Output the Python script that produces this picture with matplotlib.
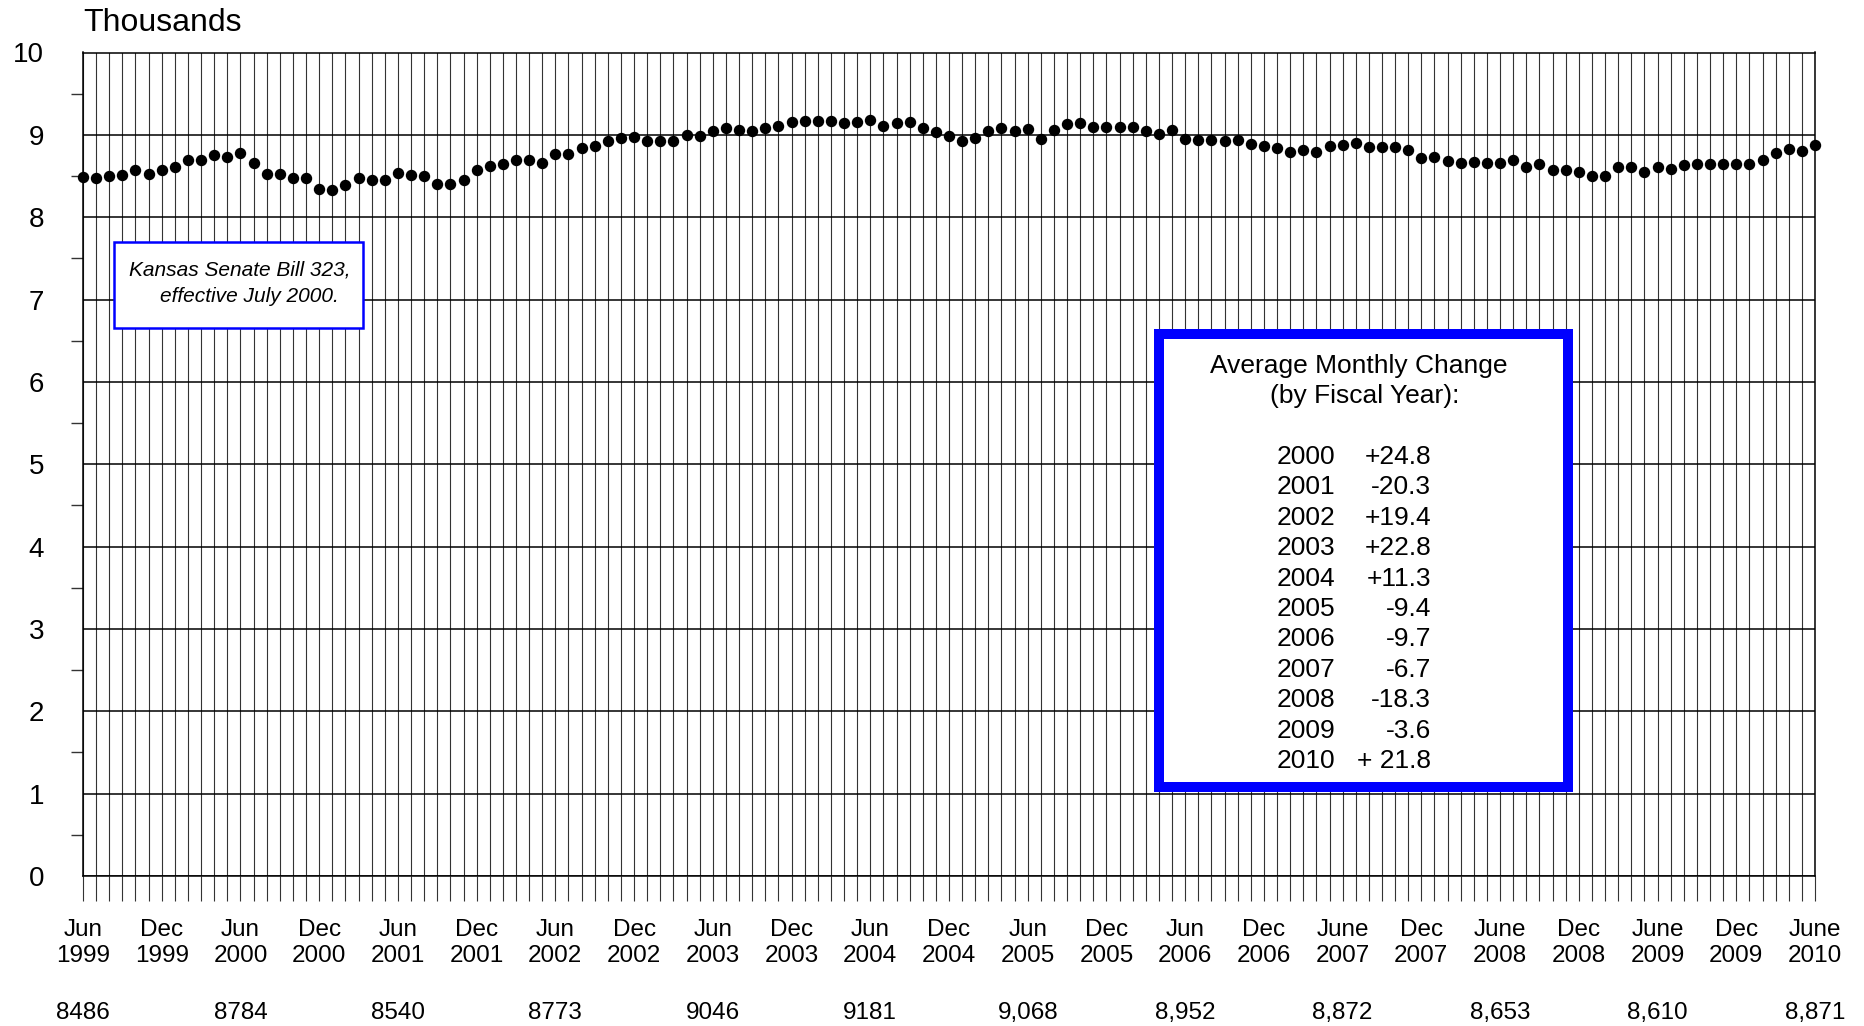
import numpy as np
import matplotlib
matplotlib.use('Agg')
import matplotlib.pyplot as plt
from matplotlib.patches import Rectangle
from matplotlib.transforms import blended_transform_factory

plt.rcParams['font.family'] = ['Liberation Sans', 'DejaVu Sans']

# monthly caseload (thousands), June 1999 .. June 2010
caseload = [8.486, 8.48, 8.50, 8.51, 8.57, 8.52, 8.57, 8.61, 8.70, 8.70, 8.75, 8.73,
            8.784, 8.66, 8.53, 8.53, 8.47, 8.47, 8.34, 8.33, 8.39, 8.48, 8.45, 8.45,
            8.540, 8.51, 8.50, 8.40, 8.40, 8.45, 8.57, 8.62, 8.64, 8.70, 8.70, 8.66,
            8.773, 8.77, 8.84, 8.87, 8.93, 8.96, 8.97, 8.93, 8.92, 8.92, 9.00, 8.99,
            9.046, 9.08, 9.06, 9.05, 9.08, 9.11, 9.16, 9.17, 9.17, 9.17, 9.14, 9.15,
            9.181, 9.11, 9.14, 9.15, 9.08, 9.04, 8.99, 8.93, 8.96, 9.05, 9.08, 9.05,
            9.068, 8.95, 9.06, 9.13, 9.14, 9.09, 9.09, 9.09, 9.09, 9.05, 9.01, 9.06,
            8.952, 8.94, 8.94, 8.92, 8.94, 8.89, 8.87, 8.84, 8.79, 8.81, 8.79, 8.87,
            8.872, 8.90, 8.85, 8.85, 8.85, 8.81, 8.72, 8.73, 8.68, 8.66, 8.67, 8.66,
            8.653, 8.69, 8.61, 8.64, 8.57, 8.57, 8.55, 8.50, 8.50, 8.61, 8.61, 8.55,
            8.610, 8.58, 8.63, 8.64, 8.64, 8.65, 8.64, 8.64, 8.69, 8.78, 8.83, 8.80,
            8.871]

tick_labels = ['Jun\n1999', 'Dec\n1999', 'Jun\n2000', 'Dec\n2000', 'Jun\n2001', 'Dec\n2001',
               'Jun\n2002', 'Dec\n2002', 'Jun\n2003', 'Dec\n2003', 'Jun\n2004', 'Dec\n2004',
               'Jun\n2005', 'Dec\n2005', 'Jun\n2006', 'Dec\n2006', 'June\n2007', 'Dec\n2007',
               'June\n2008', 'Dec\n2008', 'June\n2009', 'Dec\n2009', 'June\n2010']

june_counts = ['8486', '8784', '8540', '8773', '9046', '9181',
               '9,068', '8,952', '8,872', '8,653', '8,610', '8,871']

fiscal_years = ['2000', '2001', '2002', '2003', '2004', '2005',
                '2006', '2007', '2008', '2009', '2010']
avg_change = ['+24.8', '-20.3', '+19.4', '+22.8', '+11.3', '-9.4',
              '-9.7', '-6.7', '-18.3', '-3.6', '+ 21.8']

W, H = 1864, 1026
fig = plt.figure(figsize=(W / 100, H / 100), dpi=100)
ax = fig.add_axes([83 / W, 1 - 876 / H, (1815 - 83) / W, (876 - 52.5) / H])

months = np.arange(len(caseload))
ax.plot(months, caseload, 'o', color='black', markersize=7.2, clip_on=False, zorder=5)

ax.set_xlim(0, len(caseload) - 1)
ax.set_ylim(0, 10)

# every month gets a grid line; labels every six months
ax.set_xticks(np.arange(0, len(caseload), 6))
ax.set_xticklabels(tick_labels, fontsize=17.5, linespacing=1.22)
ax.set_xticks(months, minor=True)
ax.set_yticks(np.arange(0, 11))
ax.set_yticks(np.arange(0.5, 10, 1), minor=True)
ax.tick_params(axis='x', which='both', direction='out', length=18, width=0.8,
               color='#333333', pad=13)
ax.tick_params(axis='y', which='major', length=0, labelsize=20, pad=28)
ax.tick_params(axis='y', which='minor', length=9, width=1, color='#333333')

ax.xaxis.grid(True, which='both', color='#333333', linewidth=0.8)
ax.yaxis.grid(True, which='major', color='black', linewidth=1.1)
ax.set_axisbelow(True)
for s in ax.spines.values():
    s.set_linewidth(1.1)

# June counts under the month labels
trans = blended_transform_factory(ax.transData, fig.transFigure)
for k, txt in enumerate(june_counts):
    ax.text(k * 12, 1 - 1013 / H, txt, transform=trans, ha='center', va='center', fontsize=17.5)

fig.text(83 / W, 1 - 23 / H, 'Thousands', ha='left', va='center', fontsize=23)

# bill note
fig.add_artist(Rectangle((114 / W, 1 - 327.7 / H), (362.7 - 114) / W, (327.7 - 242) / H,
                         transform=fig.transFigure, facecolor='white', edgecolor='#0000FF',
                         linewidth=1.8, zorder=3))
fig.text(240 / W, 1 - 270 / H, 'Kansas Senate Bill 323,', ha='center', va='center',
         fontsize=15, style='italic', zorder=4)
fig.text(249 / W, 1 - 296.7 / H, 'effective July 2000.', ha='center', va='center',
         fontsize=15, style='italic', zorder=4)

# average monthly change box
fig.add_artist(Rectangle((1159 / W, 1 - 787 / H), (1568 - 1159) / W, (787 - 334) / H,
                         transform=fig.transFigure, facecolor='white', edgecolor='#0000FF',
                         linewidth=7.2, zorder=3))
fig.text(1359 / W, 1 - 366 / H, 'Average Monthly Change', ha='center', va='center',
         fontsize=19, zorder=4)
fig.text(1365 / W, 1 - 396.5 / H, '(by Fiscal Year):', ha='center', va='center',
         fontsize=19, zorder=4)
for k, (yr, ch) in enumerate(zip(fiscal_years, avg_change)):
    yy = 1 - (457 + 30.4 * k) / H
    fig.text(1276.7 / W, yy, yr, ha='left', va='center', fontsize=19, zorder=4)
    fig.text(1431 / W, yy, ch, ha='right', va='center', fontsize=19, zorder=4)

plt.savefig('out.png', dpi=100)
